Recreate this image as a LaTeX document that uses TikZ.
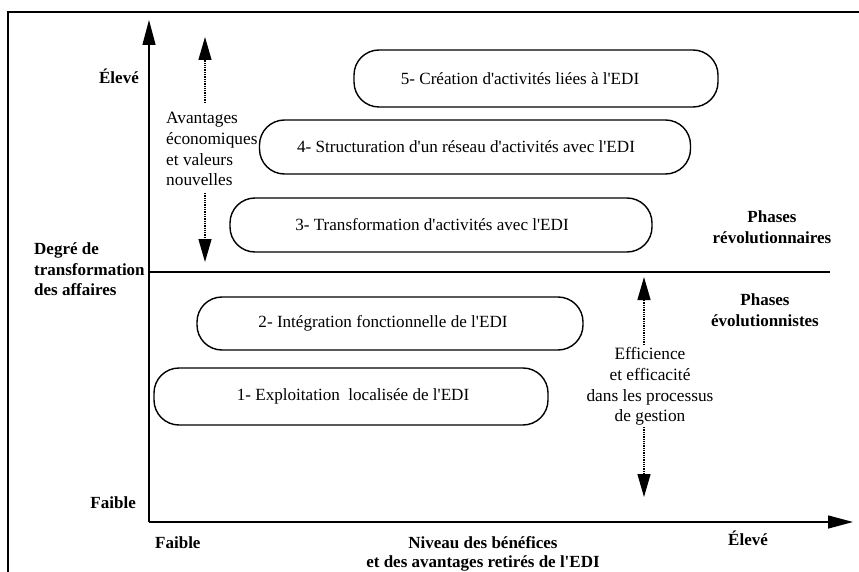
\documentclass[tikz,border=0pt]{standalone}
\usepackage{fontspec}
\setmainfont{Liberation Serif}
\usetikzlibrary{arrows.meta}
\newcommand{\ap}{\textquotesingle}
\begin{document}
\begin{tikzpicture}[x=1pt,y=-1pt,
  phase/.style={draw, line width=1.4pt, rounded corners=25pt, inner sep=0pt},
  ptext/.style={font=\fontsize{17.1}{20}\selectfont, inner sep=0pt},
  lbl/.style={font=\fontsize{17.3}{20.8}\selectfont, inner sep=0pt},
  blbl/.style={font=\fontsize{17}{20.5}\selectfont\bfseries, inner sep=0pt},
  frameline/.style={line width=1.4pt},
  axisline/.style={line width=1.4pt, -{Triangle[length=25pt,width=13pt]}},
  dotarrow/.style={line width=1.3pt, densely dotted, -{Triangle[length=23pt,width=13pt]}},
]
\useasboundingbox (0,0) rectangle (859,572);
\fill[white] (0,0) rectangle (859,572);

% frame
\coordinate (fbl) at (8,572);
\coordinate (ftl) at (8,12);
\coordinate (ftr) at (859,12);
\draw[frameline] (fbl) -- (ftl) -- (ftr);

% axes
\coordinate (O) at (149,522);
\coordinate (ytop) at (149,20);
\coordinate (xend) at (853,522);
\draw[axisline] (O) -- (ytop);
\draw[axisline] (O) -- (xend);

% divider
\coordinate (dl) at (149,272);
\coordinate (dr) at (830,272);
\draw[frameline] (dl) -- (dr);

% phase boxes
\node[phase, minimum width=364pt, minimum height=57pt] (p5) at (536,78.5) {};
\node[phase, minimum width=431pt, minimum height=54pt] (p4) at (475,147) {};
\node[phase, minimum width=422pt, minimum height=54pt] (p3) at (441,225) {};
\node[phase, minimum width=386pt, minimum height=53pt] (p2) at (390,323.5) {};
\node[phase, minimum width=394pt, minimum height=57pt] (p1) at (351,396.5) {};
\node[ptext] (p5t) at ([xshift=-16pt]p5.center) {5- Création d\ap activités liées à l\ap EDI};
\node[ptext] (p4t) at ([xshift=-9pt]p4.center) {4- Structuration d\ap un réseau d\ap activités avec l\ap EDI};
\node[ptext] (p3t) at ([xshift=-9pt]p3.center) {3- Transformation d\ap activités avec l\ap EDI};
\node[ptext] (p2t) at ([xshift=-7pt]p2.center) {2- Intégration fonctionnelle de l\ap EDI};
\node[ptext] (p1t) at ([xshift=2pt]p1.center) {1- Exploitation~ localisée de l\ap EDI};

% axis labels
\node[blbl, anchor=east] (yhigh) at (139,76) {Élevé};
\node[blbl, anchor=east] (ylow) at (136,503) {Faible};
\node[blbl, anchor=west, align=left] (ytitle) at (34,269.5) {Degré de\\transformation\\des affaires};
\node[blbl, anchor=west] (xlow) at (155,543) {Faible};
\node[blbl, anchor=west] (xhigh) at (728,538) {Élevé};
\node[blbl, align=center, font=\fontsize{17}{18.5}\selectfont\bfseries] (xtitle) at (483,554) {Niveau des bénéfices\\et des avantages retirés de l\ap EDI};

% phase labels
\node[blbl, align=center] (rev) at (772,227) {Phases\\révolutionnaires};
\node[blbl, align=center] (evo) at (765,310) {Phases\\évolutionnistes};

% left dotted arrows
\node[lbl, anchor=west, align=left] (avant) at (166,149) {Avantages\\économiques\\et valeurs\\nouvelles};
\coordinate (a1s) at (205,103);
\coordinate (a1e) at (205,37);
\coordinate (a2s) at (205,193);
\coordinate (a2e) at (205,262);
\draw[dotarrow] (a1s) -- (a1e);
\draw[dotarrow] (a2s) -- (a2e);

% right dotted arrows
\node[lbl, align=center] (eff) at (650,386.5) {Efficience\\et efficacité\\dans les processus\\de gestion};
\coordinate (b1s) at (644,345);
\coordinate (b1e) at (644,277);
\coordinate (b2s) at (644,427);
\coordinate (b2e) at (644,497);
\draw[dotarrow] (b1s) -- (b1e);
\draw[dotarrow] (b2s) -- (b2e);
\end{tikzpicture}
\end{document}
